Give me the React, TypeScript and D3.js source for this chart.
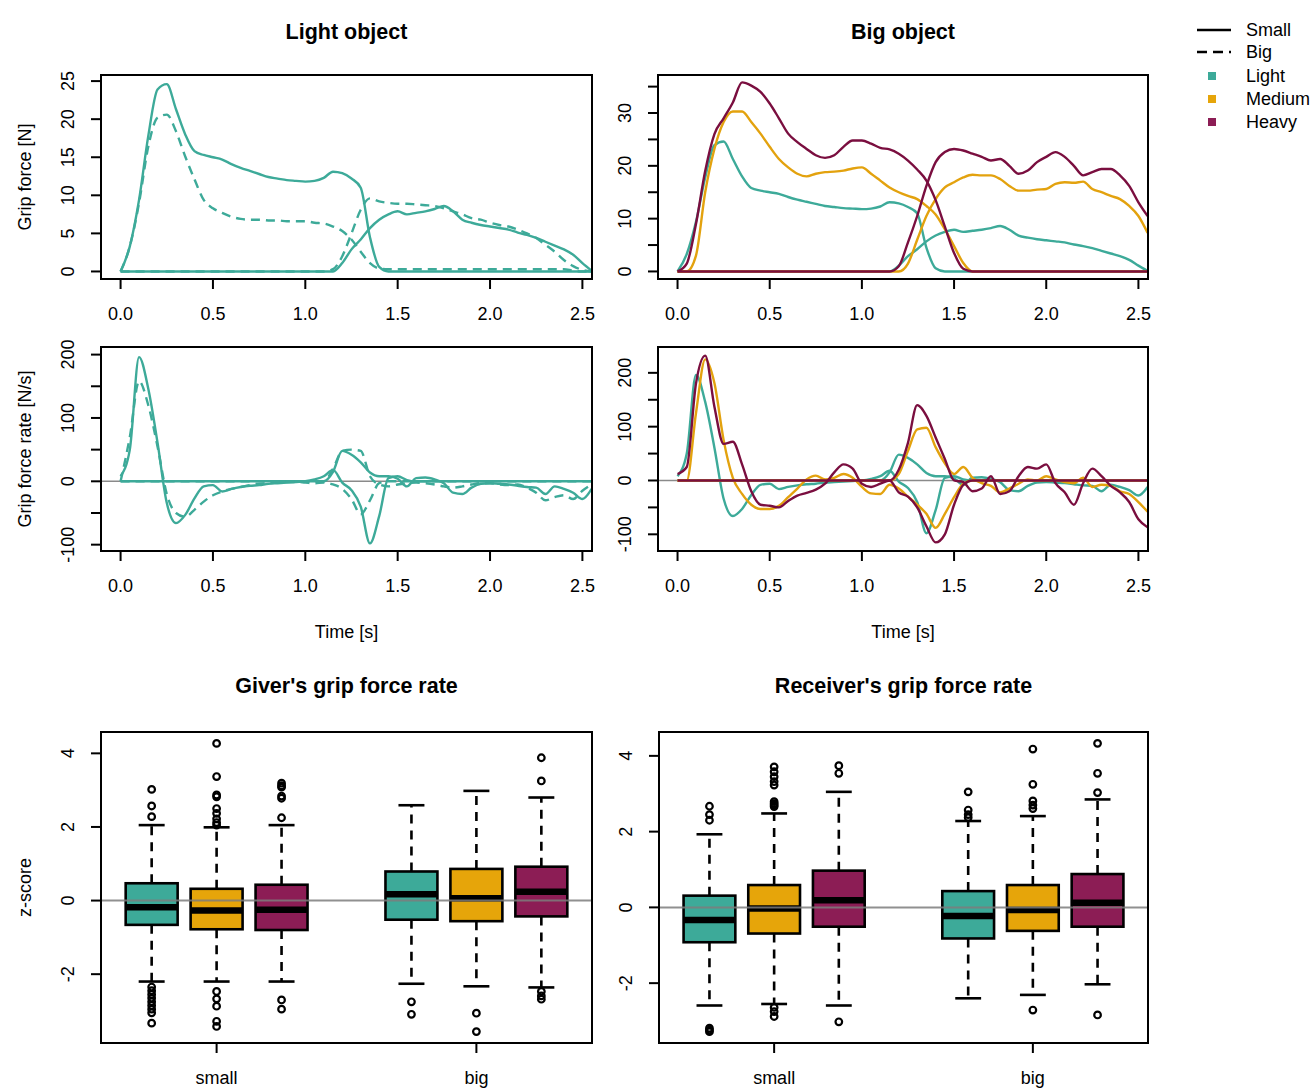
import React from 'react';
import * as d3 from 'd3';

// sampling grid of the averaged traces (s)
const time = d3.range(52).map((i) => +(i * 0.05).toFixed(2));

// grip force [N], light object
const lightGiverSmall = [0, 3.3, 9.4, 17.8, 23.9, 24.6, 21.3, 18, 15.8, 15.3, 15, 14.7, 14.1, 13.6, 13.2, 12.8, 12.4, 12.2, 12.0, 11.9, 11.8, 11.9, 12.3, 13.1, 12.9, 12.2, 11.0, 4.5, 0.6, 0,
  0, 0, 0, 0, 0, 0, 0, 0, 0, 0, 0, 0, 0, 0, 0, 0, 0, 0, 0, 0, 0, 0];
const lightGiverBig = [0, 3.3, 9, 16.4, 20.2, 20.6, 18.4, 15.1, 12.1, 9.4, 8.3, 7.7, 7.2, 6.9, 6.8, 6.8, 6.7, 6.7, 6.6, 6.6, 6.6, 6.4, 6.3, 5.9, 5.3, 4.2, 2.6, 1.1, 0.4, 0.3,
  0.3, 0.3, 0.3, 0.3, 0.3, 0.3, 0.3, 0.3, 0.3, 0.3, 0.3, 0.3, 0.3, 0.3, 0.3, 0.3, 0.3, 0.3, 0.3, 0.1, 0, 0];
const lightReceiverSmall = [0, 0, 0, 0, 0, 0, 0, 0, 0, 0, 0, 0, 0, 0, 0, 0, 0, 0, 0, 0, 0, 0, 0, 0,
  1.1, 2.9, 4.2, 5.7, 6.8, 7.5, 7.9, 7.5, 7.7, 7.9, 8.2, 8.6, 7.9, 6.8, 6.4, 6.1, 5.9, 5.7, 5.5, 5.1, 4.8, 4.4, 3.9, 3.4, 2.9, 2.2, 1.1, 0.1];
const lightReceiverBig = [0, 0, 0, 0, 0, 0, 0, 0, 0, 0, 0, 0, 0, 0, 0, 0, 0, 0, 0, 0, 0, 0, 0,
  0.3, 2, 5, 8.1, 9.6, 9.2, 9.0, 8.9, 8.9, 8.8, 8.7, 8.6, 8.3, 7.9, 7.5, 7.0, 6.8, 6.4, 6.1, 5.9, 5.5, 5.0, 4.4, 3.5, 2.6, 1.5, 0.7, 0.2, 0];

// grip force [N], big object
const mediumGiver = [0, 0, 3, 15, 23.2, 28.3, 30.3, 30.3, 28.3, 26.1, 23.6, 21.3, 19.7, 18.5, 18, 18.5, 18.8, 18.9, 19.1, 19.5, 19.7, 18.5, 17.2, 15.9, 15, 14.3, 13.7, 12.4, 10.8, 8, 4.8, 1.6, 0,
  0, 0, 0, 0, 0, 0, 0, 0, 0, 0, 0, 0, 0, 0, 0, 0, 0, 0, 0];
const heavyGiver = [0, 1.5, 9, 19, 26, 29, 32, 35.8, 35.2, 34, 31.8, 29, 26.1, 24.5, 23.2, 22, 21.5, 22, 23.6, 24.8, 24.8, 24.2, 23.4, 23.1, 22.3, 21, 19.3, 17.2, 13.5, 8.5, 3.5, 0.5, 0,
  0, 0, 0, 0, 0, 0, 0, 0, 0, 0, 0, 0, 0, 0, 0, 0, 0, 0, 0];
const mediumReceiver = [0, 0, 0, 0, 0, 0, 0, 0, 0, 0, 0, 0, 0, 0, 0, 0, 0, 0, 0, 0, 0, 0, 0, 0,
  0, 1.5, 6, 10.5, 13.7, 15.9, 16.9, 17.8, 18.3, 18.2, 18.2, 17.5, 16.2, 15.3, 15.3, 15.5, 15.6, 16.6, 16.9, 16.8, 17, 15.6, 15, 14.3, 13.7, 12.4, 10.5, 7.3];
const heavyReceiver = [0, 0, 0, 0, 0, 0, 0, 0, 0, 0, 0, 0, 0, 0, 0, 0, 0, 0, 0, 0, 0, 0, 0, 0,
  1, 5.5, 10.5, 16.2, 20.7, 22.6, 23.2, 22.9, 22.3, 21.7, 21, 21.3, 20, 18.5, 19.1, 20.7, 21.7, 22.6, 21.7, 20, 18.2, 18.8, 19.4, 19.4, 18.2, 16.2, 13.1, 10.5];

// grip force rate [N/s], light object
const lightGiverSmallRate = [8, 50, 196, 146, 61, -34, -66, -53, -27, -8, -6, -16, -12, -9, -7, -6, -4, -3, -2, -1, 0, 3, 8, 18, -2, -14, -40, -98, -55, 5, 8, 2,
  0, 0, 0, 0, 0, 0, 0, 0, 0, 0, 0, 0, 0, 0, 0, 0, 0, 0, 0, 0];
const lightGiverBigRate = [0, 70, 158, 120, 55, -20, -50, -56, -45, -32, -22, -16, -12, -9, -6, -4, -3, -2, -1, -1, -2, -3, -2, -5, -12, -28, -52, -30, -3, 0,
  0, 0, 0, 0, 0, 0, 0, 0, 0, 0, 0, 0, 0, 0, 0, 0, 0, 0, 0, 0, 0, 0];
const lightReceiverSmallRate = [0, 0, 0, 0, 0, 0, 0, 0, 0, 0, 0, 0, 0, 0, 0, 0, 0, 0, 0, 0, 0, 0, 0,
  15, 48, 42, 30, 14, 8, 8, 4, -8, 5, 6, 3, -3, -18, -20, -10, -4, -3, -4, -5, -7, -9, -10, -20, -8, -12, -18, -28, -12];
const lightReceiverBigRate = [0, 0, 0, 0, 0, 0, 0, 0, 0, 0, 0, 0, 0, 0, 0, 0, 0, 0, 0, 0, 0, 0, 0,
  20, 48, 50, 48, 8, -5, -8, -5, -3, -2, -3, -5, -8, -10, -8, -5, -3, -3, -5, -6, -5, -10, -18, -30, -25, -22, -28, -15, -5];

// grip force rate [N/s], big object
const mediumGiverRate = [0, 0, 125, 225, 181, 75, 5, -25, -45, -53, -53, -47, -31, -15, 2, 9, 2, 5, 12, 5, -12, -24, -25, -8, -15, -30, -45, -62, -88, -62, -31, -6, 0,
  0, 0, 0, 0, 0, 0, 0, 0, 0, 0, 0, 0, 0, 0, 0, 0, 0, 0, 0];
const heavyGiverRate = [12, 25, 180, 232, 137, 68, 72, 30, -20, -45, -47, -50, -38, -28, -23, -17, -6, 15, 30, 22, -6, -12, -6, 0, -22, -30, -50, -85, -115, -100, -45, -8, 0,
  0, 0, 0, 0, 0, 0, 0, 0, 0, 0, 0, 0, 0, 0, 0, 0, 0, 0, 0];
const mediumReceiverRate = [0, 0, 0, 0, 0, 0, 0, 0, 0, 0, 0, 0, 0, 0, 0, 0, 0, 0, 0, 0, 0, 0, 0, 0,
  12, 55, 95, 98, 62, 32, 12, 25, 5, -5, -10, -22, -15, -6, 2, 0, 8, 2, -3, -5, 5, -12, -8, -10, -20, -25, -40, -58];
const heavyReceiverRate = [0, 0, 0, 0, 0, 0, 0, 0, 0, 0, 0, 0, 0, 0, 0, 0, 0, 0, 0, 0, 0, 0, 0, 0,
  20, 70, 140, 120, 80, 40, 0, -3, -20, -15, 8, -25, -20, 8, 25, 22, 30, -5, -22, -45, -5, 22, 8, -10, -22, -40, -72, -87];

// z-scores: order is small light/medium/heavy, big light/medium/heavy
const giverLow = [-2.2, -2.2, -2.2, -2.26, -2.33, -2.36];
const giverQ1 = [-0.66, -0.78, -0.8, -0.52, -0.56, -0.43];
const giverMedian = [-0.18, -0.27, -0.25, 0.17, 0.06, 0.24];
const giverQ3 = [0.47, 0.32, 0.43, 0.79, 0.86, 0.92];
const giverHigh = [2.05, 1.99, 2.05, 2.59, 2.98, 2.8];
const giverOutliers = [
  [3.02, 2.57, 2.28, -2.35, -2.45, -2.55, -2.65, -2.75, -2.85, -2.95, -3.05, -3.33],
  [4.27, 3.37, 2.87, 2.82, 2.5, 2.37, 2.22, 2.12, 2.05, -2.47, -2.67, -2.87, -3.28, -3.42],
  [3.19, 3.12, 3.08, 2.84, 2.78, 2.25, -2.7, -2.95],
  [-2.75, -3.09],
  [-3.06, -3.56],
  [3.88, 3.25, -2.47, -2.59, -2.68],
];

const receiverLow = [-2.59, -2.55, -2.59, -2.4, -2.31, -2.03];
const receiverQ1 = [-0.92, -0.69, -0.51, -0.82, -0.62, -0.51];
const receiverMedian = [-0.33, -0.03, 0.19, -0.23, -0.07, 0.12];
const receiverQ3 = [0.31, 0.59, 0.97, 0.43, 0.59, 0.88];
const receiverHigh = [1.93, 2.48, 3.05, 2.28, 2.41, 2.85];
const receiverOutliers = [
  [2.67, 2.45, 2.3, -3.19, -3.24, -3.28],
  [3.71, 3.58, 3.45, 3.32, 3.23, 2.79, 2.74, 2.7, 2.66, -2.64, -2.75, -2.88],
  [3.74, 3.54, -3.02],
  [3.05, 2.57, 2.45, 2.37],
  [4.18, 3.25, 2.81, 2.7, 2.61, -2.71],
  [4.33, 3.54, 3.03, -2.84],
];

const weightNames = ['Light', 'Medium', 'Heavy'];
const sizeNames = ['Small', 'Big'];
const groupLabels = ['small', 'big'];
const groupTicks = [2, 6];
const boxPositions = [1, 2, 3, 5, 6, 7];
const timeTicks = [0, 0.5, 1, 1.5, 2, 2.5];

const lineColors = ['#3DAA99', '#E3A20E', '#7A0E3F'];
const boxColors = ['#3DAA99', '#E6A50A', '#8C1D55'];
const FONT = '"Liberation Sans", Arial, Helvetica, sans-serif';

type Series = { values: number[]; color: string; dashed?: boolean };

type PanelProps = {
  id: string;
  left: number;
  right: number;
  top: number;
  bottom: number;
  yDomain: [number, number];
  yTicks: number[];
  yLabels: number[];
  series: Series[];
  title?: string;
  yTitle?: string;
  xTitle?: string;
  zero?: boolean;
};

function TimePanel(p: PanelProps) {
  const x = d3.scaleLinear().domain([-0.106, 2.552]).range([p.left, p.right]);
  const y = d3.scaleLinear().domain(p.yDomain).range([p.bottom, p.top]);
  const line = d3
    .line<number>()
    .x((d, i) => x(time[i]))
    .y((d) => y(d))
    .curve(d3.curveMonotoneX);
  const cx = (p.left + p.right) / 2;
  const cy = (p.top + p.bottom) / 2;

  return (
    <g>
      <defs>
        <clipPath id={p.id}>
          <rect x={p.left} y={p.top} width={p.right - p.left} height={p.bottom - p.top} />
        </clipPath>
      </defs>
      {p.title && (
        <text x={cx} y={31} dy="0.35em" textAnchor="middle" fontSize={21.5} fontWeight="bold">
          {p.title}
        </text>
      )}
      <g clipPath={`url(#${p.id})`}>
        {p.zero && <line x1={p.left} x2={p.right} y1={y(0)} y2={y(0)} stroke="#8a8a8a" strokeWidth={1.5} />}
        {p.series.map((s, k) => (
          <path
            key={k}
            d={line(s.values) || ''}
            fill="none"
            stroke={s.color}
            strokeWidth={2.4}
            strokeDasharray={s.dashed ? '9,6' : undefined}
          />
        ))}
      </g>
      <rect x={p.left} y={p.top} width={p.right - p.left} height={p.bottom - p.top} fill="none" stroke="#000" strokeWidth={2} />
      {timeTicks.map((t) => (
        <g key={t}>
          <line x1={x(t)} x2={x(t)} y1={p.bottom} y2={p.bottom + 10} stroke="#000" strokeWidth={2} />
          <text x={x(t)} y={p.bottom + 35} dy="0.35em" textAnchor="middle" fontSize={18}>
            {d3.format('.1f')(t)}
          </text>
        </g>
      ))}
      {p.yTicks.map((v) => (
        <line key={v} x1={p.left - 10} x2={p.left} y1={y(v)} y2={y(v)} stroke="#000" strokeWidth={2} />
      ))}
      {p.yLabels.map((v) => (
        <text key={v} transform={`translate(${p.left - 33},${y(v)}) rotate(-90)`} dy="0.35em" textAnchor="middle" fontSize={18}>
          {v}
        </text>
      ))}
      {p.yTitle && (
        <text transform={`translate(25,${cy}) rotate(-90)`} dy="0.35em" textAnchor="middle" fontSize={18}>
          {p.yTitle}
        </text>
      )}
      {p.xTitle && (
        <text x={cx} y={632} dy="0.35em" textAnchor="middle" fontSize={18}>
          {p.xTitle}
        </text>
      )}
    </g>
  );
}

type BoxProps = {
  left: number;
  right: number;
  top: number;
  bottom: number;
  yDomain: [number, number];
  low: number[];
  q1: number[];
  median: number[];
  q3: number[];
  high: number[];
  outliers: number[][];
  title: string;
  yTitle?: string;
};

function BoxPanel(p: BoxProps) {
  const x = d3.scaleLinear().domain([0.22, 7.78]).range([p.left, p.right]);
  const y = d3.scaleLinear().domain(p.yDomain).range([p.bottom, p.top]);
  const half = x(0.4) - x(0);
  const staple = x(0.2) - x(0);
  const cx = (p.left + p.right) / 2;
  const cy = (p.top + p.bottom) / 2;

  return (
    <g>
      <text x={cx} y={685} dy="0.35em" textAnchor="middle" fontSize={21.5} fontWeight="bold">
        {p.title}
      </text>
      {boxPositions.map((pos, i) => {
        const bx = x(pos);
        return (
          <g key={i}>
            <line x1={bx} x2={bx} y1={y(p.q3[i])} y2={y(p.high[i])} stroke="#000" strokeWidth={2.6} strokeDasharray="9,7" />
            <line x1={bx} x2={bx} y1={y(p.q1[i])} y2={y(p.low[i])} stroke="#000" strokeWidth={2.6} strokeDasharray="9,7" />
            <line x1={bx - staple} x2={bx + staple} y1={y(p.high[i])} y2={y(p.high[i])} stroke="#000" strokeWidth={2.6} />
            <line x1={bx - staple} x2={bx + staple} y1={y(p.low[i])} y2={y(p.low[i])} stroke="#000" strokeWidth={2.6} />
            <rect
              x={bx - half}
              y={y(p.q3[i])}
              width={half * 2}
              height={y(p.q1[i]) - y(p.q3[i])}
              fill={boxColors[i % 3]}
              stroke="#000"
              strokeWidth={2.6}
            />
            <line x1={bx - half} x2={bx + half} y1={y(p.median[i])} y2={y(p.median[i])} stroke="#000" strokeWidth={6.5} />
            {p.outliers[i].map((v, k) => (
              <circle key={k} cx={bx} cy={y(v)} r={3.3} fill="none" stroke="#000" strokeWidth={2.2} />
            ))}
          </g>
        );
      })}
      <line x1={p.left} x2={p.right} y1={y(0)} y2={y(0)} stroke="#7d7d7d" strokeOpacity={0.85} strokeWidth={2} />
      <rect x={p.left} y={p.top} width={p.right - p.left} height={p.bottom - p.top} fill="none" stroke="#000" strokeWidth={2} />
      {groupTicks.map((g, k) => (
        <g key={g}>
          <line x1={x(g)} x2={x(g)} y1={p.bottom} y2={p.bottom + 10} stroke="#000" strokeWidth={2} />
          <text x={x(g)} y={p.bottom + 35} dy="0.35em" textAnchor="middle" fontSize={18}>
            {groupLabels[k]}
          </text>
        </g>
      ))}
      {[-2, 0, 2, 4].map((v) => (
        <g key={v}>
          <line x1={p.left - 10} x2={p.left} y1={y(v)} y2={y(v)} stroke="#000" strokeWidth={2} />
          <text transform={`translate(${p.left - 33},${y(v)}) rotate(-90)`} dy="0.35em" textAnchor="middle" fontSize={18}>
            {v}
          </text>
        </g>
      ))}
      {p.yTitle && (
        <text transform={`translate(25,${cy}) rotate(-90)`} dy="0.35em" textAnchor="middle" fontSize={18}>
          {p.yTitle}
        </text>
      )}
    </g>
  );
}

function Legend() {
  const rows = [30, 52, 76, 99, 122];
  return (
    <g fontSize={18}>
      {sizeNames.map((s, i) => (
        <g key={s}>
          <line x1={1197} x2={1231} y1={rows[i]} y2={rows[i]} stroke="#000" strokeWidth={2.3} strokeDasharray={i === 1 ? '10,6' : undefined} />
          <text x={1246} y={rows[i]} dy="0.35em">
            {s}
          </text>
        </g>
      ))}
      {weightNames.map((w, i) => (
        <g key={w}>
          <rect x={1208} y={rows[i + 2] - 4} width={8} height={8} fill={boxColors[i]} />
          <text x={1246} y={rows[i + 2]} dy="0.35em">
            {w}
          </text>
        </g>
      ))}
    </g>
  );
}

export default function App() {
  const [teal, yellow, maroon] = lineColors;
  return (
    <svg
      width={1314}
      height={1088}
      style={{ position: 'absolute', left: 0, top: 0, background: '#fff', fontFamily: FONT }}
    >
      <rect width={1314} height={1088} fill="#fff" />
      <TimePanel
        id="clipTL"
        left={101}
        right={592}
        top={75}
        bottom={279}
        yDomain={[-0.99, 25.8]}
        yTicks={[0, 5, 10, 15, 20, 25]}
        yLabels={[0, 5, 10, 15, 20, 25]}
        title="Light object"
        yTitle="Grip force [N]"
        series={[
          { values: lightGiverSmall, color: teal },
          { values: lightReceiverSmall, color: teal },
          { values: lightGiverBig, color: teal, dashed: true },
          { values: lightReceiverBig, color: teal, dashed: true },
        ]}
      />
      <TimePanel
        id="clipTR"
        left={658}
        right={1148}
        top={75}
        bottom={279}
        yDomain={[-1.43, 37.2]}
        yTicks={[0, 5, 10, 15, 20, 25, 30, 35]}
        yLabels={[0, 10, 20, 30]}
        title="Big object"
        series={[
          { values: lightGiverSmall, color: teal },
          { values: lightReceiverSmall, color: teal },
          { values: mediumGiver, color: yellow },
          { values: mediumReceiver, color: yellow },
          { values: heavyGiver, color: maroon },
          { values: heavyReceiver, color: maroon },
        ]}
      />
      <TimePanel
        id="clipML"
        left={101}
        right={592}
        top={347}
        bottom={551}
        yDomain={[-110, 212]}
        yTicks={[-100, -50, 0, 50, 100, 150, 200]}
        yLabels={[-100, 0, 100, 200]}
        yTitle="Grip force rate [N/s]"
        xTitle="Time [s]"
        zero
        series={[
          { values: lightGiverSmallRate, color: teal },
          { values: lightReceiverSmallRate, color: teal },
          { values: lightGiverBigRate, color: teal, dashed: true },
          { values: lightReceiverBigRate, color: teal, dashed: true },
        ]}
      />
      <TimePanel
        id="clipMR"
        left={658}
        right={1148}
        top={347}
        bottom={551}
        yDomain={[-131, 248]}
        yTicks={[-100, -50, 0, 50, 100, 150, 200]}
        yLabels={[-100, 0, 100, 200]}
        xTitle="Time [s]"
        zero
        series={[
          { values: lightGiverSmallRate, color: teal },
          { values: lightReceiverSmallRate, color: teal },
          { values: mediumGiverRate, color: yellow },
          { values: mediumReceiverRate, color: yellow },
          { values: heavyGiverRate, color: maroon },
          { values: heavyReceiverRate, color: maroon },
        ]}
      />
      <BoxPanel
        left={101}
        right={592}
        top={732}
        bottom={1043}
        yDomain={[-3.87, 4.58]}
        low={giverLow}
        q1={giverQ1}
        median={giverMedian}
        q3={giverQ3}
        high={giverHigh}
        outliers={giverOutliers}
        title="Giver's grip force rate"
        yTitle="z-score"
      />
      <BoxPanel
        left={659}
        right={1148}
        top={732}
        bottom={1043}
        yDomain={[-3.58, 4.63]}
        low={receiverLow}
        q1={receiverQ1}
        median={receiverMedian}
        q3={receiverQ3}
        high={receiverHigh}
        outliers={receiverOutliers}
        title="Receiver's grip force rate"
      />
      <Legend />
    </svg>
  );
}
